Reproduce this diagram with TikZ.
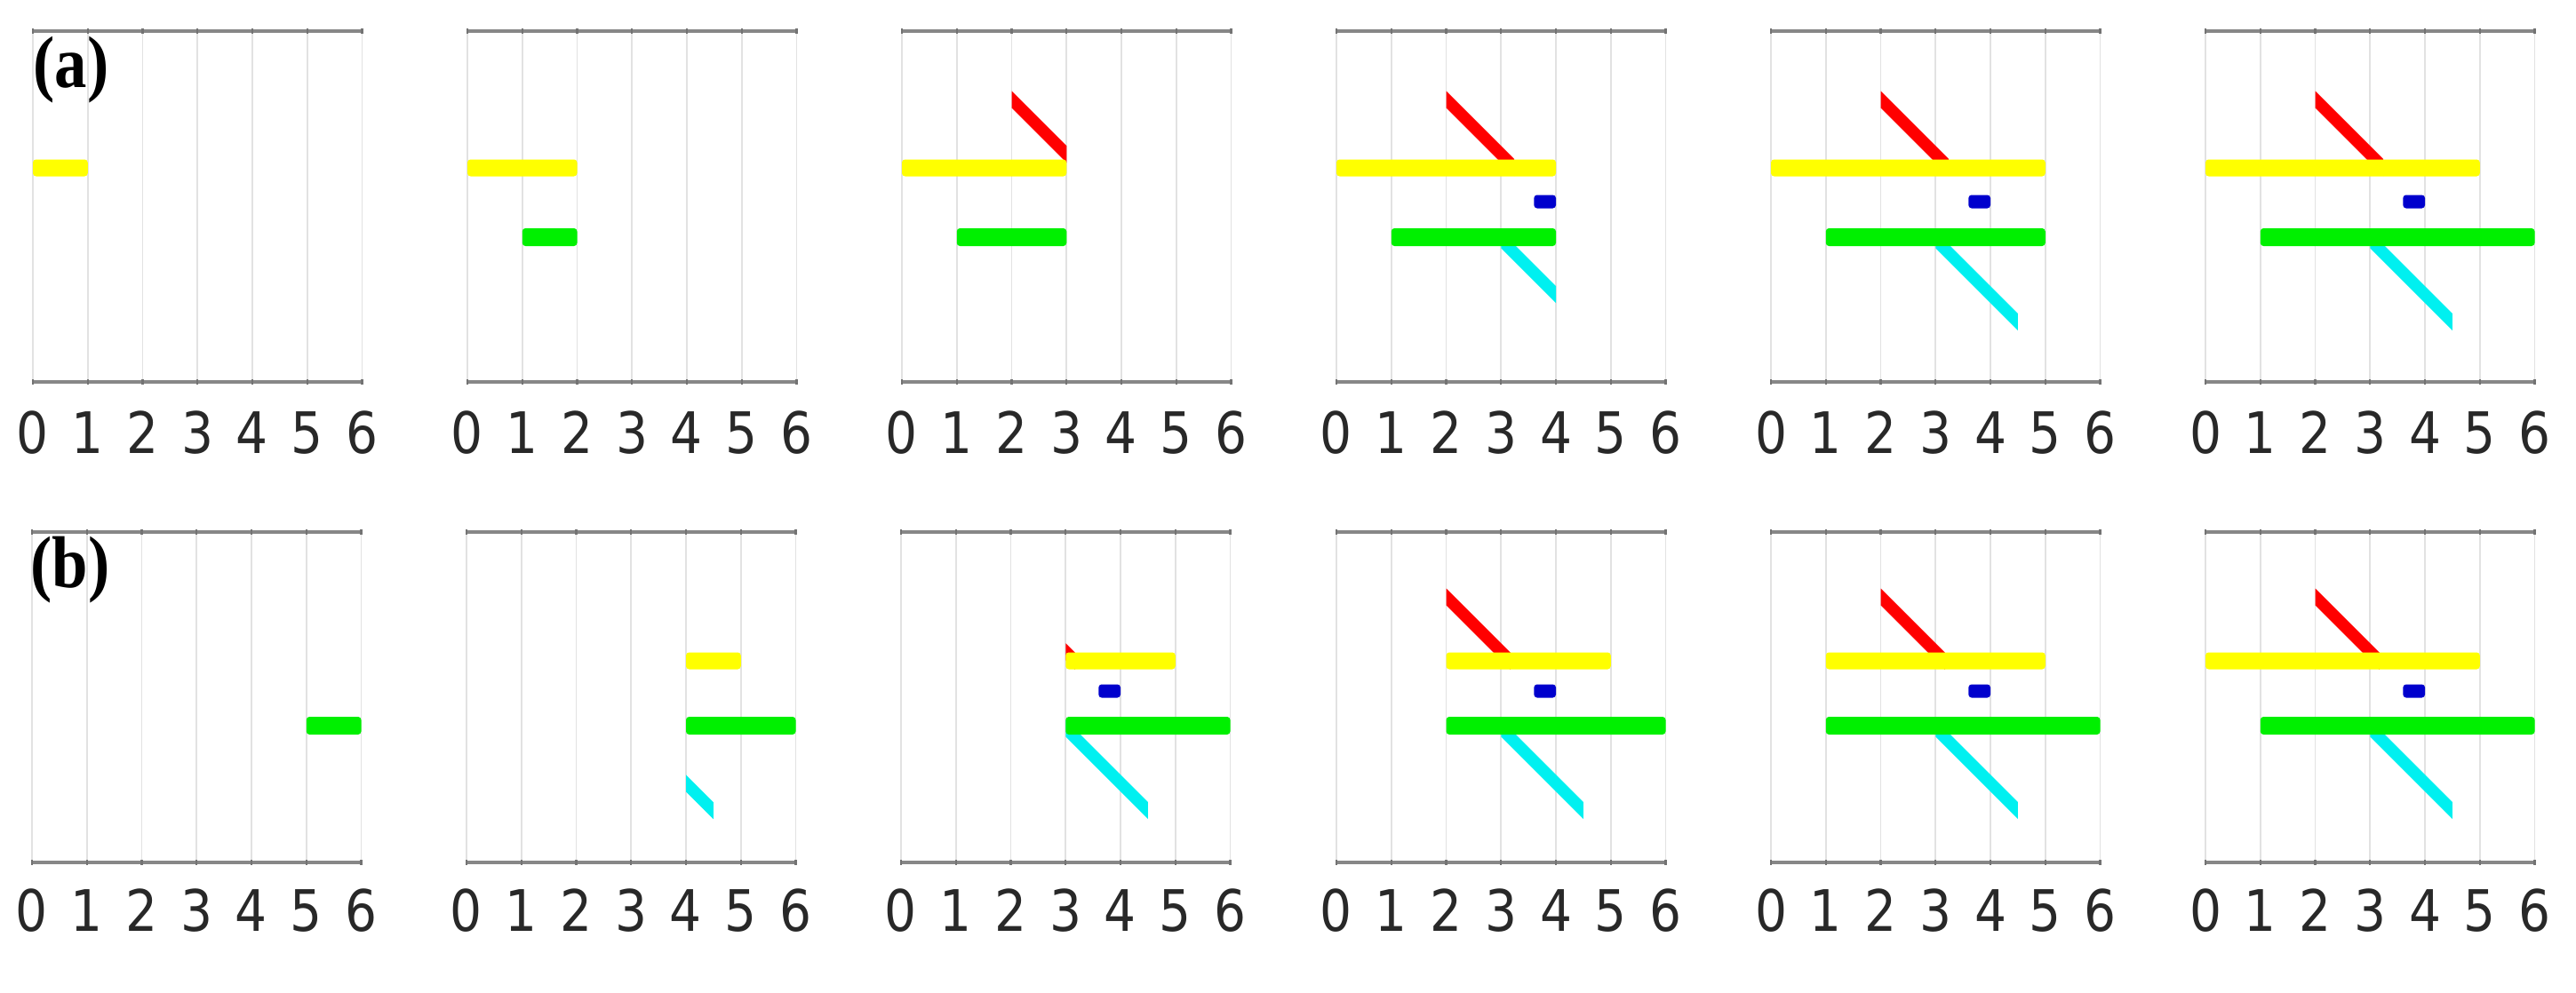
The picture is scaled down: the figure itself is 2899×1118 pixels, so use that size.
\documentclass[tikz,border=0pt]{standalone}
\usepackage{fontspec}
\usepackage{graphicx}
\newfontfamily\dejavu{DejaVu Sans}
\newfontfamily\libserif{Liberation Serif}
\definecolor{ycol}{RGB}{255,255,0}
\definecolor{gcol}{RGB}{0,240,0}
\definecolor{bcol}{RGB}{0,0,205}
\definecolor{rcol}{RGB}{255,0,0}
\definecolor{ccol}{RGB}{0,240,240}
\definecolor{gridc}{RGB}{226,226,226}
\definecolor{axc}{RGB}{135,135,135}
\definecolor{labc}{RGB}{40,40,40}
\tikzset{
 gridline/.style={draw=gridc, line width=0.55pt},
 axisline/.style={draw=axc, line width=0.9pt},
 tickmark/.style={draw=axc!85!black, line width=0.6pt},
 ticklab/.style={inner sep=0pt, text=labc, font=\dejavu\fontsize{18.3}{20}\selectfont},
 panellab/.style={inner sep=0pt, font=\libserif\bfseries\fontsize{23.5}{26}\selectfont},
 barshape/.style={rounded corners=1pt},
}
% horizontal bar: colour, x1, x2, y-centre, half thickness
\newcommand{\hbr}[5]{\fill[#1,barshape] (#2,{#4-#5}) rectangle (#3,{#4+#5});}
% diagonal band: colour, x-start, x-end, ref x, ref y (slope 61.75 px per unit)
\newcommand{\dgl}[5]{\fill[#1] (#2,{#5+61.75*(#2-#4)-9.5}) -- (#3,{#5+61.75*(#3-#4)-9.5}) -- (#3,{#5+61.75*(#3-#4)+9.5}) -- (#2,{#5+61.75*(#2-#4)+9.5}) -- cycle;}
% panel frame: x0, top, bottom, label y, name prefix
\newcommand{\frameP}[5]{%
 \begin{scope}[shift={(#1,0)}, xscale=61.75]
 \foreach \k in {0,...,6}{
   \draw[gridline] (\k,#2) -- (\k,#3);
   \node[ticklab] (#5\k) at (\k,#4) {\scalebox{0.88}[1]{\k}};
 }
 \draw[axisline] (0,#2) -- (6,#2);
 \draw[axisline] (0,#3) -- (6,#3);
 \foreach \k in {0,...,6}{
   \draw[tickmark] (\k,{#2-3}) -- (\k,{#2+3});
   \draw[tickmark] (\k,{#3-3}) -- (\k,{#3+3});
 }
 \end{scope}}
\begin{document}
\begin{tikzpicture}[x=0.01cm, y=-0.01cm]
\useasboundingbox (0,0) rectangle (2899,1118);
\fill[white] (0,0) rectangle (2899,1118);

% ---------- frames ----------
\frameP{37}{35}{430}{487}{aA}
\frameP{526}{35}{430}{487}{aB}
\frameP{1015}{35}{430}{487}{aC}
\frameP{1504}{35}{430}{487}{aD}
\frameP{1993}{35}{430}{487}{aE}
\frameP{2482}{35}{430}{487}{aF}
\frameP{36}{599}{971}{1025}{bA}
\frameP{525}{599}{971}{1025}{bB}
\frameP{1014}{599}{971}{1025}{bC}
\frameP{1504}{599}{971}{1025}{bD}
\frameP{1993}{599}{971}{1025}{bE}
\frameP{2482}{599}{971}{1025}{bF}

\node[panellab] (labA) at (80,79) {\scalebox{0.88}[1]{(a)}};
\node[panellab] (labB) at (79,642) {\scalebox{0.88}[1]{(b)}};

% ---------- row (a) ----------
\begin{scope}[shift={(37,0)}, xscale=61.75]
 \hbr{ycol}{0}{1}{189}{9.5}
\end{scope}
\begin{scope}[shift={(526,0)}, xscale=61.75]
 \hbr{ycol}{0}{2}{189}{9.5}
 \hbr{gcol}{1}{2}{267}{10}
\end{scope}
\begin{scope}[shift={(1015,0)}, xscale=61.75]
 \dgl{rcol}{2}{3}{2}{112}
 \hbr{ycol}{0}{3}{189}{9.5}
 \hbr{gcol}{1}{3}{267}{10}
\end{scope}
\begin{scope}[shift={(1504,0)}, xscale=61.75]
 \dgl{rcol}{2}{3.24}{2}{112}
 \dgl{ccol}{3}{4}{3}{270}
 \hbr{ycol}{0}{4}{189}{9.5}
 \hbr{bcol}{3.6}{4}{227}{7.5}
 \hbr{gcol}{1}{4}{267}{10}
\end{scope}
\begin{scope}[shift={(1993,0)}, xscale=61.75]
 \dgl{rcol}{2}{3.24}{2}{112}
 \dgl{ccol}{3}{4.5}{3}{270}
 \hbr{ycol}{0}{5}{189}{9.5}
 \hbr{bcol}{3.6}{4}{227}{7.5}
 \hbr{gcol}{1}{5}{267}{10}
\end{scope}
\begin{scope}[shift={(2482,0)}, xscale=61.75]
 \dgl{rcol}{2}{3.24}{2}{112}
 \dgl{ccol}{3}{4.5}{3}{270}
 \hbr{ycol}{0}{5}{189}{9.5}
 \hbr{bcol}{3.6}{4}{227}{7.5}
 \hbr{gcol}{1}{6}{267}{10}
\end{scope}

% ---------- row (b) ----------
\begin{scope}[shift={(36,0)}, xscale=61.75]
 \hbr{gcol}{5}{6}{817}{10}
\end{scope}
\begin{scope}[shift={(525,0)}, xscale=61.75]
 \dgl{ccol}{4}{4.5}{3}{820}
 \hbr{ycol}{4}{5}{744}{9.5}
 \hbr{gcol}{4}{6}{817}{10}
\end{scope}
\begin{scope}[shift={(1014,0)}, xscale=61.75]
 \dgl{rcol}{3}{3.17}{2}{672}
 \dgl{ccol}{3}{4.5}{3}{820}
 \hbr{ycol}{3}{5}{744}{9.5}
 \hbr{bcol}{3.6}{4}{778}{7.5}
 \hbr{gcol}{3}{6}{817}{10}
\end{scope}
\begin{scope}[shift={(1504,0)}, xscale=61.75]
 \dgl{rcol}{2}{3.17}{2}{672}
 \dgl{ccol}{3}{4.5}{3}{820}
 \hbr{ycol}{2}{5}{744}{9.5}
 \hbr{bcol}{3.6}{4}{778}{7.5}
 \hbr{gcol}{2}{6}{817}{10}
\end{scope}
\begin{scope}[shift={(1993,0)}, xscale=61.75]
 \dgl{rcol}{2}{3.17}{2}{672}
 \dgl{ccol}{3}{4.5}{3}{820}
 \hbr{ycol}{1}{5}{744}{9.5}
 \hbr{bcol}{3.6}{4}{778}{7.5}
 \hbr{gcol}{1}{6}{817}{10}
\end{scope}
\begin{scope}[shift={(2482,0)}, xscale=61.75]
 \dgl{rcol}{2}{3.17}{2}{672}
 \dgl{ccol}{3}{4.5}{3}{820}
 \hbr{ycol}{0}{5}{744}{9.5}
 \hbr{bcol}{3.6}{4}{778}{7.5}
 \hbr{gcol}{1}{6}{817}{10}
\end{scope}
\end{tikzpicture}
\end{document}
